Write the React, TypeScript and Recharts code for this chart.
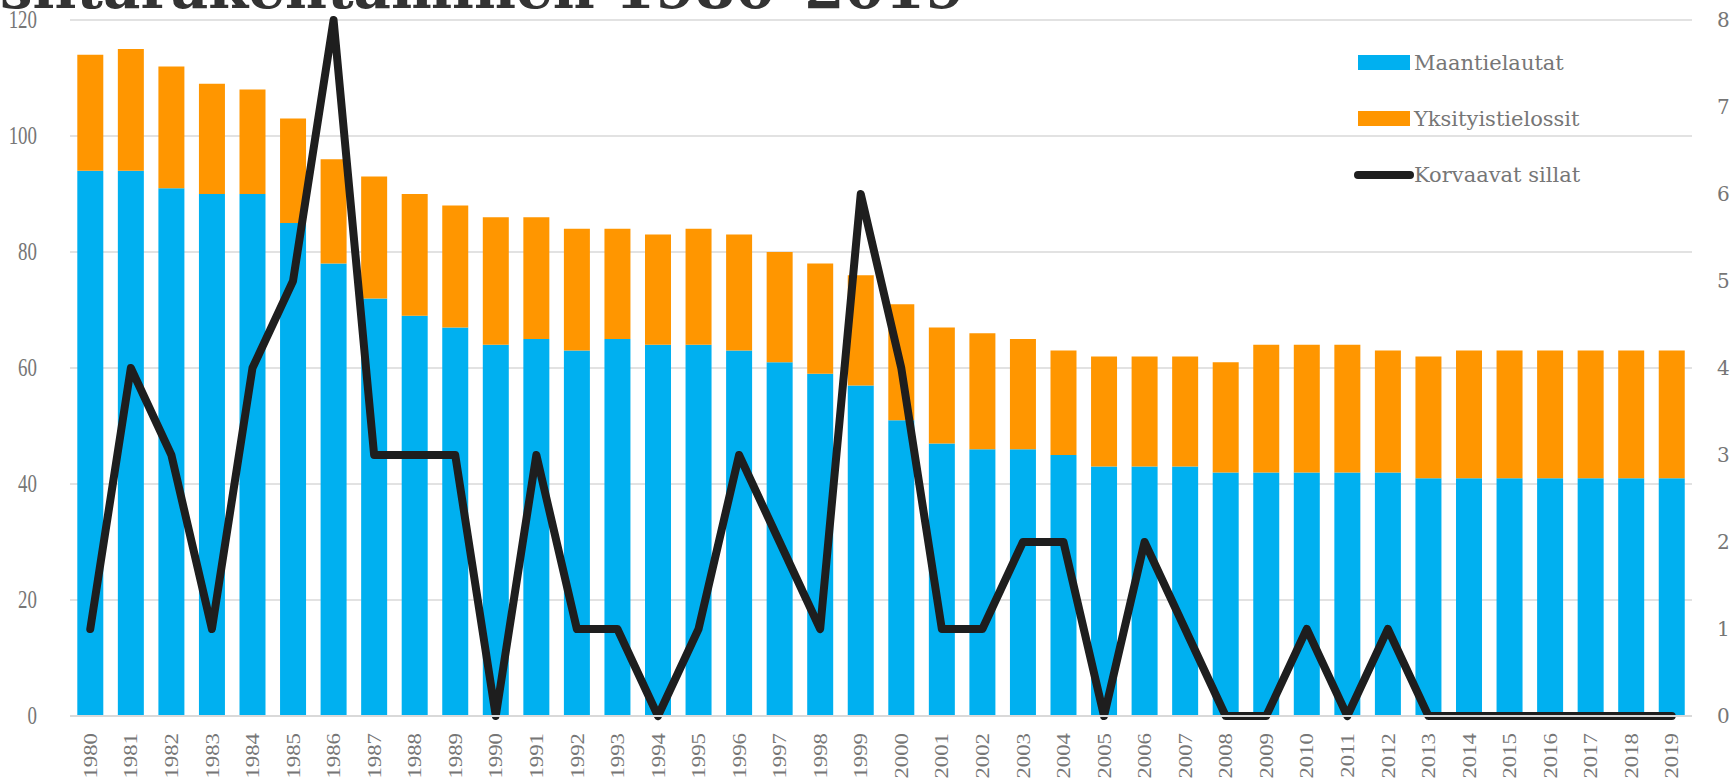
import { ComposedChart, Bar, Line, XAxis, YAxis, CartesianGrid } from 'recharts'

const years = [
  '1980','1981','1982','1983','1984','1985','1986','1987','1988','1989',
  '1990','1991','1992','1993','1994','1995','1996','1997','1998','1999',
  '2000','2001','2002','2003','2004','2005','2006','2007','2008','2009',
  '2010','2011','2012','2013','2014','2015','2016','2017','2018','2019',
]
const maantielautat = [
  94, 94, 91, 90, 90, 85, 78, 72, 69, 67,
  64, 65, 63, 65, 64, 64, 63, 61, 59, 57,
  51, 47, 46, 46, 45, 43, 43, 43, 42, 42,
  42, 42, 42, 41, 41, 41, 41, 41, 41, 41,
]
const yksityistielossit = [
  20, 21, 21, 19, 18, 18, 18, 21, 21, 21,
  22, 21, 21, 19, 19, 20, 20, 19, 19, 19,
  20, 20, 20, 19, 18, 19, 19, 19, 19, 22,
  22, 22, 21, 21, 22, 22, 22, 22, 22, 22,
]
const korvaavatSillat = [
  1, 4, 3, 1, 4, 5, 8, 3, 3, 3,
  0, 3, 1, 1, 0, 1, 3, 2, 1, 6,
  4, 1, 1, 2, 2, 0, 2, 1, 0, 0,
  1, 0, 1, 0, 0, 0, 0, 0, 0, 0,
]
const leftTicks = [0, 20, 40, 60, 80, 100, 120]
const rightTicks = [0, 1, 2, 3, 4, 5, 6, 7, 8]

const data = years.map((y, i) => ({
  year: y,
  maantie: maantielautat[i],
  yksityis: yksityistielossit[i],
  sillat: korvaavatSillat[i],
}))

const BLUE = '#00b0f0'
const ORANGE = '#ff9600'
const BLACK = '#1e1e1e'
const GREY = '#767676'

// year labels are a bit stretched along the text direction like in the original
const YearTick = ({ x, y, payload }: any) => (
  <text transform={`translate(${x},${y + 9}) rotate(-90) scale(1.2,1)`} textAnchor="end" dy="0.35em"
    fontFamily="Liberation Serif" fontSize={19} fill={GREY}>
    {payload.value}
  </text>
)

const LeftTick = ({ x, y, payload }: any) => (
  <text transform={`translate(${x - 25},${y}) scale(0.9,1.15)`} textAnchor="end" dy="0.35em"
    fontFamily="Liberation Serif" fontSize={21} fill={GREY}>
    {payload.value}
  </text>
)

export default function App() {
  return (
    <div style={{ position: 'fixed', left: 0, top: 0, width: 1733, height: 781, background: '#fff', overflow: 'hidden' }}>
      <ComposedChart width={1733} height={781} data={data} barCategoryGap="18%"
        margin={{ top: 20, right: 0, bottom: 0, left: 0 }}>
        <CartesianGrid vertical={false} stroke="#d9d9d9" strokeWidth={1.5} yAxisId="left" />
        <XAxis dataKey="year" height={65} tickLine={false} axisLine={{ stroke: '#d9d9d9', strokeWidth: 2 }}
          tick={<YearTick />} interval={0} />
        <YAxis yAxisId="left" width={70} domain={[0, 120]} ticks={leftTicks} axisLine={false} tickLine={false}
          tick={<LeftTick />} />
        <YAxis yAxisId="right" orientation="right" width={41} domain={[0, 8]} ticks={rightTicks}
          axisLine={false} tickLine={false}
          tick={{ fontFamily: 'DejaVu Serif', fontSize: 20, fill: GREY, dx: 17, textAnchor: 'start' }} />
        <Bar yAxisId="left" dataKey="maantie" stackId="a" fill={BLUE} isAnimationActive={false} />
        <Bar yAxisId="left" dataKey="yksityis" stackId="a" fill={ORANGE} isAnimationActive={false} />
        <Line yAxisId="right" dataKey="sillat" type="linear" stroke={BLACK} strokeWidth={8}
          strokeLinecap="round" strokeLinejoin="round" dot={false} isAnimationActive={false} />
      </ComposedChart>
      <svg width={1733} height={781} style={{ position: 'absolute', left: 0, top: 0, pointerEvents: 'none' }}>
        <text x={0} y={8} fontFamily="DejaVu Serif" fontWeight="bold" fontSize={56} fill="#333"
          textLength={965} lengthAdjust="spacingAndGlyphs">
          siltarakentaminen 1980–2019
        </text>
        <rect x={1358} y={55} width={52} height={15} fill={BLUE} />
        <text x={1414} y={63} dy="0.35em" fontFamily="DejaVu Serif" fontSize={21} fill={GREY}>Maantielautat</text>
        <rect x={1358} y={111} width={52} height={15} fill={ORANGE} />
        <text x={1414} y={119} dy="0.35em" fontFamily="DejaVu Serif" fontSize={21} fill={GREY}>Yksityistielossit</text>
        <line x1={1358} y1={175} x2={1410} y2={175} stroke={BLACK} strokeWidth={8} strokeLinecap="round" />
        <text x={1414} y={175} dy="0.35em" fontFamily="DejaVu Serif" fontSize={21} fill={GREY}>Korvaavat sillat</text>
      </svg>
    </div>
  )
}
